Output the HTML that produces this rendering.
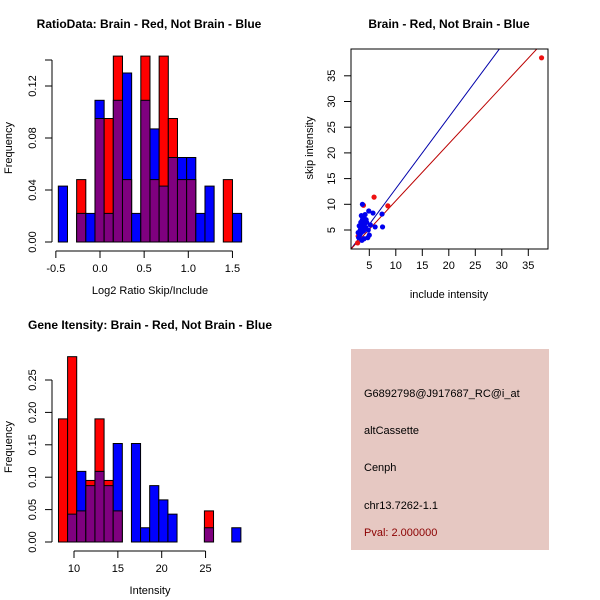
<!DOCTYPE html>
<html><head><meta charset="utf-8"><style>
body{margin:0;background:#fff}
svg{display:block;font-family:"Liberation Sans",sans-serif}
</style></head><body>
<svg id="s" width="600" height="600" xmlns="http://www.w3.org/2000/svg">
<rect width="600" height="600" fill="#fff"/>
<g id="p1"></g>
<g id="p2"></g>
<g id="p3"></g>
<g>
<rect x="351" y="349" width="198" height="201" fill="#e6c8c2"/>
<text x="364" y="397" font-size="11" fill="#000">G6892798@J917687_RC@i_at</text>
<text x="364" y="434" font-size="11" fill="#000">altCassette</text>
<text x="364" y="471" font-size="11" fill="#000">Cenph</text>
<text x="364" y="509" font-size="11" fill="#000">chr13.7262-1.1</text>
<text x="364" y="536" font-size="11" fill="#8b0000">Pval: 2.000000</text>
</g>
</svg>
<script>
// Histogram 1 data
const ratioBinStart = -0.472, ratioBinWidth = 0.1038;
const ratioRed  = [0,0,0.048,0,0.095,0.095,0.143,0.048,0,0.143,0.048,0.143,0.095,0.048,0.048,0,0,0,0.048,0];
const ratioBlue = [0.043,0,0.022,0.022,0.109,0.022,0.109,0.130,0.022,0.109,0.087,0.043,0.065,0.065,0.065,0.022,0.043,0,0,0.022];
const ratioXTicks = [-0.5,0,0.5,1,1.5];
const ratioXLabels = ["-0.5","0.0","0.5","1.0","1.5"];
const ratioYTicks = [0,0.04,0.08,0.12];
const ratioYLabels = ["0.00","0.04","0.08","0.12"];
// Histogram 2 data
const intBinStart = 8.23, intBinWidth = 1.04;
const intRed  = [0.190,0.286,0.048,0.095,0.190,0.095,0.048,0,0,0,0,0,0,0,0,0,0.048,0,0,0];
const intBlue = [0,0.043,0.109,0.087,0.109,0.087,0.152,0,0.152,0.022,0.087,0.065,0.043,0,0,0,0.022,0,0,0.022];
const intXTicks = [10,15,20,25];
const intYTicks = [0,0.05,0.10,0.15,0.20,0.25];
const intYLabels = ["0.00","0.05","0.10","0.15","0.20","0.25"];
// Scatter data
const redX = [37.5,5.9,8.5,3.9,4.2,2.9,2.8];
const redY = [38.5,11.4,9.7,9.8,6.4,3.8,2.5];
const blueX = [3.7,7.4,7.5,6.1,4.9,5.7,3,3.2,3.5,3.3,3.6,3.8,3.4,3.7,4,4.2,3.5,4.5,4.8,5,4.7,4,3.1,3.9,4.3,3.6,4.4,2.9,5.2,4.1];
const blueY = [10,8.1,5.6,5.6,8.7,8.3,3.5,4,4.5,5,5.5,6,6.5,7,7.5,8,7.8,6.5,5,4,3.5,3.3,5.8,4.8,5.5,3,7,4.5,6,6.2];
const sTicks = [5,10,15,20,25,30,35];
const blueLine = [1.39,-0.85], redLine = [1.11,-0.42];

const NS="http://www.w3.org/2000/svg";
function mk(parent,tag,attrs,txt){const e=document.createElementNS(NS,tag);for(const k in attrs)e.setAttribute(k,attrs[k]);if(txt!==undefined)e.textContent=txt;parent.appendChild(e);return e;}

function hist(g,o){
  const sx=v=>o.x0+(v-o.xv0)*o.kx, sy=v=>o.y0-v*o.ky;
  o.red.forEach((r,i)=>{
    const b=o.blue[i]; const xa=sx(o.start+i*o.w), xb=sx(o.start+(i+1)*o.w);
    const hi=Math.max(r,b), lo=Math.min(r,b);
    if(hi>0){const e=mk(g,'rect',{x:xa,y:sy(hi),width:xb-xa,height:sy(0)-sy(hi),fill:r>=b?'#ff0000':'#0000ff',stroke:'#000','stroke-width':1});
      
      }
    if(lo>0){const e=mk(g,'rect',{x:xa,y:sy(lo),width:xb-xa,height:sy(0)-sy(lo),fill:'#7f007f',stroke:'#000','stroke-width':1});
      
      }
  });
  const ax=o.axY;
  let e=mk(g,'line',{x1:sx(o.xt[0]),x2:sx(o.xt[o.xt.length-1]),y1:ax,y2:ax,stroke:'#000'});
  
  
  o.xt.forEach((t,i)=>{mk(g,'line',{x1:sx(t),x2:sx(t),y1:ax,y2:ax+7,stroke:'#000'});
    e=mk(g,'text',{x:sx(t),y:ax+21,'font-size':11,'text-anchor':'middle'},o.xl[i]);
    
    });
  const ay=52;
  e=mk(g,'line',{x1:ay,x2:ay,y1:sy(o.yt[0]),y2:sy(o.ymax),stroke:'#000'});
  
  
  o.yt.concat([o.ymax]).forEach(t=>mk(g,'line',{x1:ay-7,x2:ay,y1:sy(t),y2:sy(t),stroke:'#000'}));
  o.yt.forEach((t,i)=>{e=mk(g,'text',{x:0,y:0,'font-size':11,'text-anchor':'middle',transform:`translate(36,${sy(t)}) rotate(-90)`},o.yl[i]);
    
    });
  e=mk(g,'text',{x:o.tx,y:o.ty,'font-size':12,'font-weight':'bold','text-anchor':'middle'},o.title);
  
  
  e=mk(g,'text',{x:150,y:ax+43,'font-size':11,'text-anchor':'middle'},o.xlab);
  
  
  e=mk(g,'text',{x:0,y:0,'font-size':11,'text-anchor':'middle',transform:`translate(12,${o.fy}) rotate(-90)`},'Frequency');
  
  
}
hist(document.getElementById('p1'),{red:ratioRed,blue:ratioBlue,start:ratioBinStart,w:ratioBinWidth,x0:100,xv0:0,kx:88.3,y0:242,ky:1300,axY:251,
  xt:ratioXTicks,xl:ratioXLabels,yt:ratioYTicks,yl:ratioYLabels,ymax:0.14,title:'RatioData: Brain - Red, Not Brain - Blue',tx:149,ty:28,xlab:'Log2 Ratio Skip/Include',fy:148});
hist(document.getElementById('p3'),{red:intRed,blue:intBlue,start:intBinStart,w:intBinWidth,x0:74,xv0:10,kx:8.77,y0:542,ky:648,axY:551,
  xt:intXTicks,xl:intXTicks.map(String),yt:intYTicks,yl:intYLabels,ymax:0.25,title:'Gene Itensity: Brain - Red, Not Brain - Blue',tx:150,ty:329,xlab:'Intensity',fy:447});

// scatter
(function(){
  const g=document.getElementById('p2');
  const X0=351,X1=548,Y0=49,Y1=249;
  const sx=v=>342.8+v*5.3, sy=v=>255.7-v*5.14;
  const xmin=(X0-342.8)/5.3,xmax=(X1-342.8)/5.3;
  let e=mk(g,'text',{x:449,y:28,'font-size':12,'font-weight':'bold','text-anchor':'middle'},'Brain - Red, Not Brain - Blue');
  
  
  const cp=mk(g,'clipPath',{id:'cp'});mk(cp,'rect',{x:X0,y:Y0,width:X1-X0,height:Y1-Y0});
  const pts=mk(g,'g',{'clip-path':'url(#cp)'});
  [[blueLine,'#0000aa'],[redLine,'#bb0000']].forEach(([l,c])=>{
    e=mk(pts,'line',{x1:sx(xmin),y1:sy(l[0]*xmin+l[1]),x2:sx(xmax),y2:sy(l[0]*xmax+l[1]),stroke:c,'stroke-width':1});
    
    
  });
  redX.forEach((x,i)=>{e=mk(pts,'circle',{cx:sx(x),cy:sy(redY[i]),r:2.6,fill:'#ee1111'});
    
    });
  blueX.forEach((x,i)=>{e=mk(pts,'circle',{cx:sx(x),cy:sy(blueY[i]),r:2.6,fill:'#0000ee'});
    
    });
  e=mk(g,'rect',{x:X0,y:Y0,width:X1-X0,height:Y1-Y0,fill:'none',stroke:'#000'});
  
  
  sTicks.forEach(t=>{
    mk(g,'line',{x1:sx(t),x2:sx(t),y1:Y1,y2:Y1+7,stroke:'#000'});
    e=mk(g,'text',{x:sx(t),y:Y1+20,'font-size':11,'text-anchor':'middle'},String(t));
    
    
    mk(g,'line',{x1:X0-7,x2:X0,y1:sy(t),y2:sy(t),stroke:'#000'});
    e=mk(g,'text',{x:0,y:0,'font-size':11,'text-anchor':'middle',transform:`translate(335,${sy(t)}) rotate(-90)`},String(t));
    
    
  });
  e=mk(g,'text',{x:449,y:298,'font-size':11,'text-anchor':'middle'},'include intensity');
  
  
  e=mk(g,'text',{x:0,y:0,'font-size':11,'text-anchor':'middle',transform:'translate(313,148) rotate(-90)'},'skip intensity');
  
  
})();
</script>
</body></html>
